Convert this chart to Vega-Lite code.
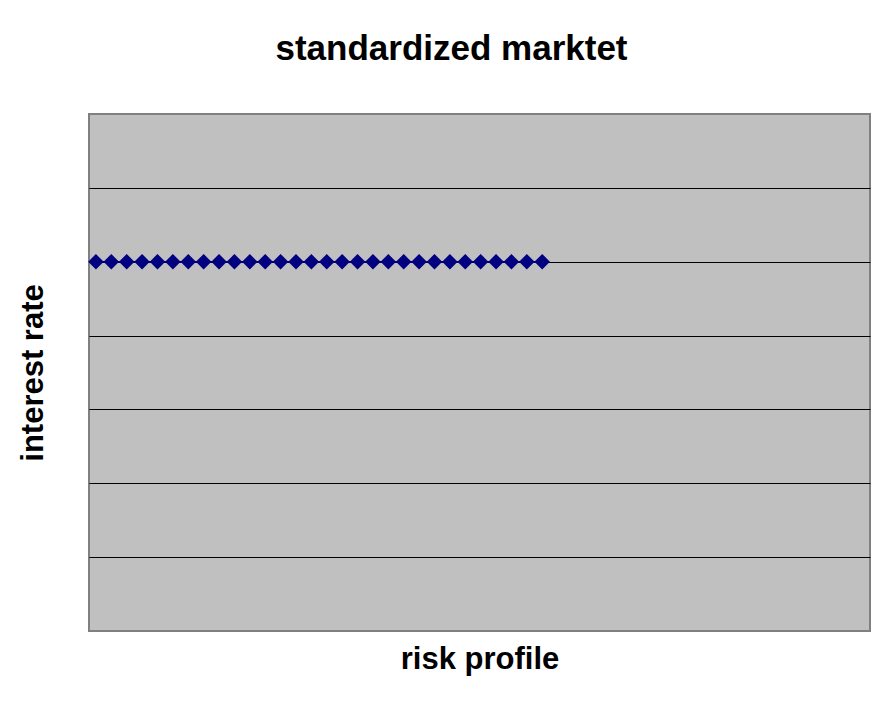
{
  "$schema": "https://vega.github.io/schema/vega-lite/v6.json",
  "width": 781,
  "height": 517,
  "autosize": {"type": "none"},
  "padding": {"left": 89, "top": 114, "right": 14, "bottom": 77},
  "background": "#ffffff",
  "title": {
    "text": "standardized marktet",
    "font": "Liberation Sans",
    "fontSize": 35,
    "fontWeight": "bold",
    "color": "#000000",
    "anchor": "middle",
    "dx": -28,
    "offset": 47
  },
  "config": {
    "view": {"fill": "#C0C0C0", "stroke": "#808080", "strokeWidth": 2},
    "axis": {"titleFont": "Liberation Sans", "titleFontSize": 31, "titleFontWeight": "bold", "titleColor": "#000000"}
  },
  "data": {
    "values": [
      {"x": 1, "y": 5}, {"x": 2, "y": 5}, {"x": 3, "y": 5}, {"x": 4, "y": 5}, {"x": 5, "y": 5},
      {"x": 6, "y": 5}, {"x": 7, "y": 5}, {"x": 8, "y": 5}, {"x": 9, "y": 5}, {"x": 10, "y": 5},
      {"x": 11, "y": 5}, {"x": 12, "y": 5}, {"x": 13, "y": 5}, {"x": 14, "y": 5}, {"x": 15, "y": 5},
      {"x": 16, "y": 5}, {"x": 17, "y": 5}, {"x": 18, "y": 5}, {"x": 19, "y": 5}, {"x": 20, "y": 5},
      {"x": 21, "y": 5}, {"x": 22, "y": 5}, {"x": 23, "y": 5}, {"x": 24, "y": 5}, {"x": 25, "y": 5},
      {"x": 26, "y": 5}, {"x": 27, "y": 5}, {"x": 28, "y": 5}, {"x": 29, "y": 5}, {"x": 30, "y": 5}
    ]
  },
  "encoding": {
    "x": {
      "field": "x", "type": "quantitative",
      "scale": {"domain": [0.55, 51.3], "nice": false, "zero": false},
      "axis": {"title": "risk profile", "grid": false, "labels": false, "ticks": false, "domain": false, "titlePadding": 13}
    },
    "y": {
      "field": "y", "type": "quantitative",
      "scale": {"domain": [0, 7], "nice": false, "zero": true},
      "axis": {"title": "interest rate", "values": [1, 2, 3, 4, 5, 6], "grid": true, "gridColor": "#000000", "gridWidth": 1, "gridOpacity": 1, "labels": false, "ticks": false, "domain": false, "titlePadding": 40}
    }
  },
  "layer": [
    {"mark": {"type": "line", "color": "#000080", "strokeWidth": 1.5}},
    {"mark": {"type": "point", "shape": "diamond", "filled": true, "size": 240, "color": "#000080", "opacity": 1}}
  ]
}
